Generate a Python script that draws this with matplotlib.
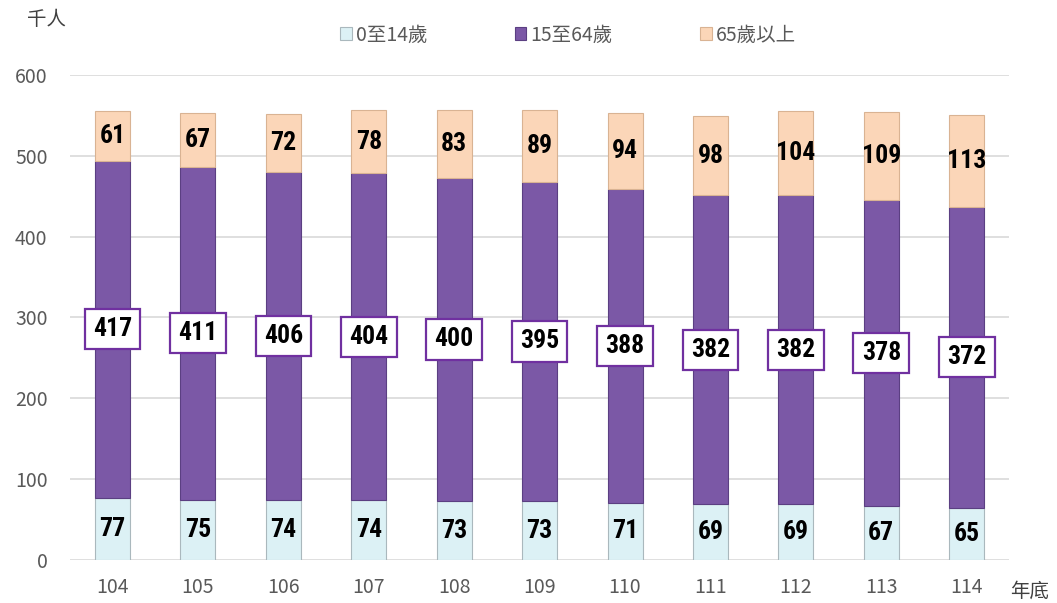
import matplotlib
matplotlib.use('Agg')
import matplotlib.pyplot as plt
from matplotlib import font_manager
import numpy as np

plt.rcParams['font.family'] = ['Noto Sans CJK TC', 'DejaVu Sans']

years = ['104', '105', '106', '107', '108', '109', '110', '111', '112', '113', '114']
age_0_14 = [77, 75, 74, 74, 73, 73, 71, 69, 69, 67, 65]
age_15_64 = [417, 411, 406, 404, 400, 395, 388, 382, 382, 378, 372]
age_65 = [61, 67, 72, 78, 83, 89, 94, 98, 104, 109, 113]
series_names = ['0至14歲', '15至64歲', '65歲以上']

c_young = '#dcf1f5'
c_mid = '#7b58a6'
c_old = '#fbd6b8'

# narrow bold font for the value labels, if one is around
names = set(f.name for f in font_manager.fontManager.ttflist)
lab_font = 'DejaVu Sans'
for cand in ['Liberation Sans Narrow', 'DejaVu Sans Condensed', 'Roboto Condensed']:
    if cand in names:
        lab_font = cand
        break

fig = plt.figure(figsize=(10.57, 6.03), dpi=100)
ax = fig.add_axes([0.066, 0.071, 0.889, 0.805])

x = np.arange(len(years))
w = 0.41
a = np.array(age_0_14)
b = np.array(age_15_64)
c = np.array(age_65)

ax.bar(x, a, w, color=c_young, edgecolor='#aab8bd', linewidth=0.8, label=series_names[0], zorder=3)
ax.bar(x, b, w, bottom=a, color=c_mid, edgecolor='#5b3f82', linewidth=0.8, label=series_names[1], zorder=3)
ax.bar(x, c, w, bottom=a + b, color=c_old, edgecolor='#d9b393', linewidth=0.8, label=series_names[2], zorder=3)

fs = 16 if lab_font == 'DejaVu Sans' else 18.5
for i in range(len(years)):
    ax.text(x[i], a[i] / 2, str(a[i]), ha='center', va='center', fontsize=fs,
            fontweight='bold', color='black', zorder=5, family=lab_font)
    ax.text(x[i], a[i] + b[i] / 2, str(b[i]), ha='center', va='center', fontsize=fs,
            fontweight='bold', color='black', zorder=5, family=lab_font,
            bbox=dict(boxstyle='square,pad=0.32', fc='white', ec='#7030a0', lw=1.6))
    ax.text(x[i], a[i] + b[i] + c[i] / 2, str(c[i]), ha='center', va='center', fontsize=fs,
            fontweight='bold', color='black', zorder=5, family=lab_font)

ax.set_xlim(-0.5, len(years) - 0.5)
ax.set_ylim(0, 600)
ax.set_yticks(range(0, 601, 100))
ax.set_xticks(x)
ax.set_xticklabels(years)
ax.tick_params(axis='both', length=0, labelsize=14, colors='#595959', pad=12)
ax.tick_params(axis='y', pad=16)
ax.yaxis.grid(True, color='#d9d9d9', linewidth=1.2, zorder=0)
for s in ax.spines.values():
    s.set_visible(False)

fig.text(0.044, 0.967, '千人', fontsize=14, color='#404040', ha='center', va='center')
fig.text(0.974, 0.02, '年底', fontsize=14, color='#404040', ha='center', va='center')

ax.legend(loc='center', bbox_to_anchor=(0.53, 1.082), ncol=3, frameon=False,
          fontsize=14, labelcolor='#595959', handlelength=0.6, handleheight=0.6,
          handletextpad=0.2, columnspacing=4.5)

fig.savefig('out.png', dpi=100)
